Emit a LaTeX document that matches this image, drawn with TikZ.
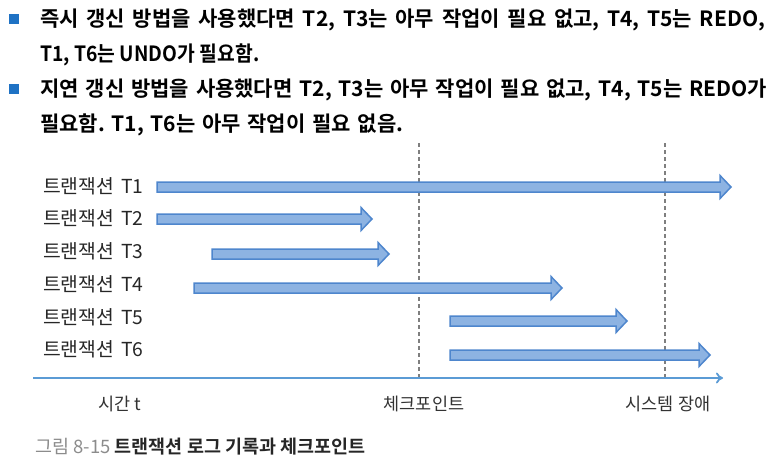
\documentclass[tikz,border=0pt]{standalone}
\usepackage{fontspec}
\newfontfamily\kr{Noto Sans CJK KR}[BoldFont={Noto Sans CJK KR Bold}]
\setmainfont{Noto Sans CJK KR}
\usetikzlibrary{arrows.meta}
\frenchspacing
\definecolor{bulletblue}{HTML}{1F72C4}
\definecolor{arrfill}{HTML}{8DB3E2}
\definecolor{arrline}{HTML}{4E86CD}
\definecolor{axisblue}{HTML}{5B9BD5}
\definecolor{dashgray}{HTML}{7F7F7F}
\definecolor{captgray}{HTML}{8C8C8C}
\tikzset{
  toptext/.style={anchor=west, inner sep=0pt, font=\kr\bfseries\fontsize{21}{25}\selectfont, text=black},
  bulletsq/.style={fill=bulletblue, minimum size=10pt, inner sep=0pt},
  tlabel/.style={anchor=west, inner sep=0pt, font=\kr\fontsize{19.3}{22}\selectfont, text=black!85},
  axlabel/.style={inner sep=0pt, font=\kr\fontsize{17.5}{20}\selectfont, text=black!80},
  tarr/.style={draw=arrline, fill=arrfill, line width=1.5pt, line join=miter},
  dashline/.style={draw=dashgray, line width=1.3pt, dash pattern=on 4pt off 3pt},
  axisline/.style={draw=axisblue, line width=1.8pt, -{To[length=7pt,width=11pt]}},
  capt/.style={anchor=west, inner sep=0pt, font=\kr\fontsize{18.5}{21}\selectfont}
}
\newcommand{\tarrow}[4]{% name, x1, x2, y
  \draw[tarr] (#2,#4-5) -- (#3-11,#4-5) -- (#3-11,#4-11.5) -- (#3,#4) -- (#3-11,#4+11.5) -- (#3-11,#4+5) -- (#2,#4+5) -- cycle;
  \coordinate (#1) at (#3,#4);
}
\newcommand{\tx}[1]{트랜잭션\hspace{7pt}#1}
\begin{document}
\begin{tikzpicture}[x=1pt,y=-1pt]
\useasboundingbox (0,0) rectangle (771,463);
% bullets and top text
\node[bulletsq] (b1) at (13.5,19) {};
\node[toptext] (t1) at (40,20) {\makebox[725pt][s]{즉시 갱신 방법을 사용했다면 T2, T3는 아무 작업이 필요 없고, T4, T5는 REDO,}};
\node[toptext] (t2) at (40,55) {\scalebox{0.92}[1]{T1, T6는 UNDO가 필요함.}};
\node[bulletsq] (b2) at (13.5,89) {};
\node[toptext] (t3) at (40,90) {\makebox[727pt][s]{지연 갱신 방법을 사용했다면 T2, T3는 아무 작업이 필요 없고, T4, T5는 REDO가}};
\node[toptext] (t4) at (40,125) {\makebox[363pt][s]{필요함. T1, T6는 아무 작업이 필요 없음.}};
% dashed lines
\coordinate (c1top) at (419,143);
\coordinate (c1bot) at (419,378);
\coordinate (c2top) at (665,143);
\coordinate (c2bot) at (665,378);
\draw[dashline] (c1top) -- (c1bot);
\draw[dashline] (c2top) -- (c2bot);
% labels
\node[tlabel] (l1) at (43,186) {\tx{T1}};
\node[tlabel] (l2) at (43,218) {\tx{T2}};
\node[tlabel] (l3) at (43,251) {\tx{T3}};
\node[tlabel] (l4) at (43,284) {\tx{T4}};
\node[tlabel] (l5) at (43,317) {\tx{T5}};
\node[tlabel] (l6) at (43,349) {\tx{T6}};
% arrows
\tarrow{a1}{157}{731}{187}
\tarrow{a2}{157}{372}{219}
\tarrow{a3}{212}{389}{254}
\tarrow{a4}{194}{562}{288}
\tarrow{a5}{450}{627}{321}
\tarrow{a6}{450}{710}{355}
% axis
\coordinate (ax0) at (33,378);
\coordinate (ax1) at (723,378);
\draw[axisline] (ax0) -- (ax1);
\node[axlabel] (tt) at (120,404) {시간 t};
\node[axlabel] (cp) at (424,404) {체크포인트};
\node[axlabel] (sf) at (668,404) {시스템 장애};
% caption
\node[capt] (cap) at (35,447) {\textcolor{captgray}{그림 8-15} \textbf{\textcolor{black!85}{트랜잭션 로그 기록과 체크포인트}}};
\end{tikzpicture}
\end{document}
